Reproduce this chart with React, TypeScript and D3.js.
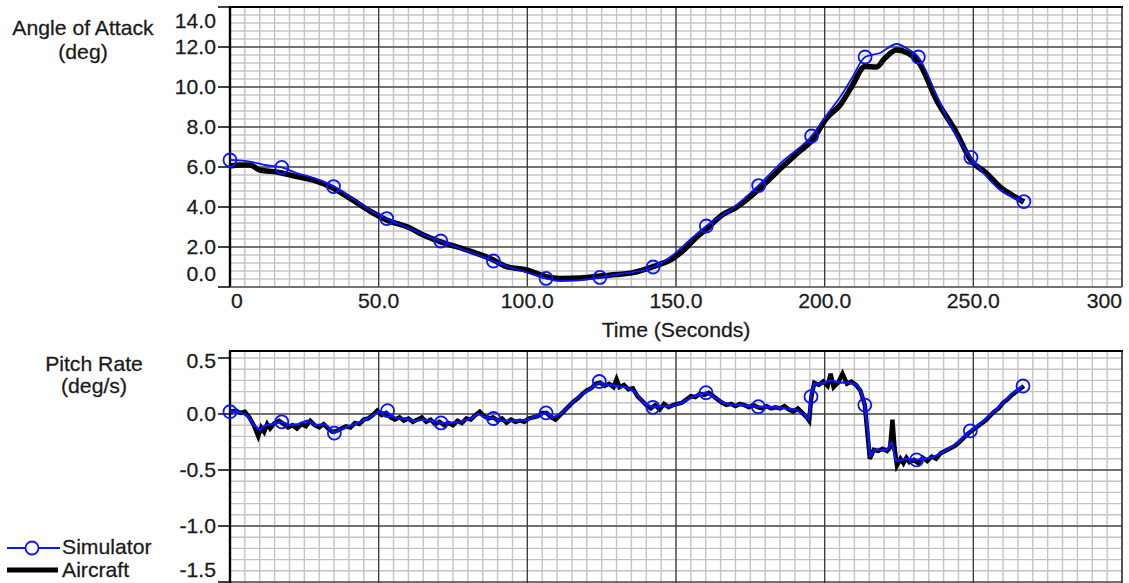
import React from "react";
import * as d3 from "d3";

// time axis
const timeTicks = [0, 50, 100, 150, 200, 250, 300];
const timeLabels = ["0", "50.0", "100.0", "150.0", "200.0", "250.0", "300"];
const aoaTicks = [0, 2, 4, 6, 8, 10, 12, 14];
const aoaLabels = ["0.0", "2.0", "4.0", "6.0", "8.0", "10.0", "12.0", "14.0"];
const pitchTicks = [0.5, 0, -0.5, -1, -1.5];
const pitchLabels = ["0.5", "0.0", "-0.5", "-1.0", "-1.5"];

// angle of attack, aircraft [t, deg]
const aircraftAoa: [number, number][] = [
  [0, 6.05], [3, 6.1], [6.7, 6.1], [10, 5.85], [15.7, 5.75], [22.4, 5.52], [28, 5.35],
  [33.6, 5.02], [40.4, 4.43], [47, 3.8], [52.7, 3.35], [60.5, 2.95], [65, 2.6],
  [70.6, 2.27], [79.6, 1.85], [88.6, 1.35], [93, 1.02], [99.8, 0.85], [106.3, 0.52],
  [111, 0.43], [118, 0.45], [124.6, 0.55], [130, 0.62], [135.5, 0.72], [142.3, 1.02],
  [149, 1.43], [153, 1.9], [157, 2.5], [160.3, 2.9], [165.5, 3.6], [170, 3.95],
  [178, 4.9], [185, 5.9], [191.7, 6.8], [195.6, 7.3], [200.7, 8.45], [205.2, 9.1],
  [209, 10.0], [213.6, 11.02], [217.5, 11.0], [220, 11.4], [224.2, 11.85], [228, 11.7],
  [231.5, 11.27], [237.6, 9.35], [244.4, 7.7], [249.1, 6.35], [254.5, 5.68], [259, 5.0],
  [263, 4.6], [267, 4.25],
];

// angle of attack, simulator
const simAoa: [number, number][] = [
  [0, 6.35], [3, 6.33], [6.7, 6.27], [11.8, 6.1], [17.4, 5.98], [22, 5.72], [28, 5.45],
  [35, 5.02], [41, 4.45], [47, 3.85], [52.7, 3.42], [60, 2.95], [65, 2.62], [70.9, 2.3],
  [77, 1.95], [83, 1.62], [88.6, 1.3], [94, 1.0], [100, 0.72], [106.3, 0.43], [111, 0.3],
  [116, 0.32], [124.4, 0.48], [131, 0.65], [137, 0.78], [142.3, 1.0], [149, 1.6],
  [155, 2.4], [160.2, 3.05], [168.3, 3.85], [177.7, 5.07], [186, 6.3], [195.6, 7.55],
  [200.7, 8.6], [205.2, 9.5], [209, 10.4], [213.6, 11.5], [218.6, 11.7], [224.2, 12.15],
  [228, 11.9], [231.5, 11.5], [237.6, 9.6], [243, 7.9], [249.1, 6.48], [254, 5.6],
  [259, 4.85], [263, 4.5], [267, 4.27],
];

const simAoaMarks: [number, number][] = [
  [0, 6.35], [17.4, 5.98], [34.8, 5.02], [52.7, 3.42], [70.9, 2.3], [88.6, 1.3],
  [106.3, 0.43], [124.4, 0.48], [142.3, 1.0], [160.2, 3.05], [177.8, 5.07], [195.6, 7.55],
  [213.6, 11.5], [231.5, 11.5], [249.2, 6.48], [267, 4.27],
];

// pitch rate, aircraft [t, deg/s]
const aircraftPitch: [number, number][] = [
  [0, 0.02], [2, 0.03], [3.5, 0.01], [5, 0.02], [6.5, -0.03], [8, -0.1], [9.5, -0.2],
  [10.5, -0.12], [11.5, -0.16], [12.5, -0.09], [13.5, -0.13], [15, -0.08], [16.5, -0.06],
  [18, -0.09], [19.5, -0.12], [21, -0.1], [22.5, -0.13], [24, -0.09], [25.5, -0.11],
  [27, -0.06], [28.5, -0.1], [30, -0.12], [31.5, -0.09], [33, -0.13], [34.5, -0.16],
  [36, -0.15], [37.5, -0.13], [39, -0.11], [40.5, -0.12], [42, -0.08], [43.5, -0.09],
  [45, -0.05], [46.5, -0.04], [48, -0.01], [49.5, 0.03], [51, -0.01], [52.5, 0.01],
  [54, -0.03], [55.5, -0.05], [57, -0.03], [58.5, -0.06], [60, -0.04], [61.5, -0.07],
  [63, -0.05], [64.5, -0.03], [66, -0.07], [67.5, -0.05], [69, -0.09], [70.5, -0.07],
  [72, -0.1], [73.5, -0.08], [75, -0.1], [76.5, -0.06], [78, -0.08], [79.5, -0.04],
  [81, -0.05], [82.5, -0.01], [84, 0.02], [85.5, -0.02], [87, -0.04], [88.5, -0.03],
  [90, -0.06], [91.5, -0.04], [93, -0.08], [94.5, -0.05], [96, -0.07], [97.5, -0.06],
  [99, -0.07], [100.5, -0.04], [102, -0.03], [103.5, -0.02], [105, 0.01], [106.5, 0.01],
  [108, -0.03], [109.5, -0.05], [111, -0.01], [112.5, 0.03], [114, 0.07], [115.5, 0.11],
  [117, 0.14], [118.5, 0.18], [120, 0.21], [121.5, 0.23], [123, 0.27], [124.5, 0.28],
  [126, 0.25], [127.5, 0.27], [129, 0.24], [130, 0.31], [131, 0.24], [132.5, 0.26],
  [134, 0.22], [135.5, 0.23], [137, 0.16], [138.5, 0.12], [140, 0.08], [141.5, 0.05],
  [143, 0.08], [144.5, 0.04], [146, 0.09], [147.5, 0.06], [149, 0.08], [150.5, 0.09],
  [152, 0.1], [153.5, 0.13], [155, 0.16], [156.5, 0.15], [158, 0.18], [159.5, 0.17],
  [161, 0.19], [162.5, 0.16], [164, 0.13], [165.5, 0.1], [167, 0.08], [168.5, 0.09],
  [170, 0.07], [171.5, 0.09], [173, 0.08], [174.5, 0.06], [176, 0.08], [177.5, 0.06],
  [179, 0.05], [180.5, 0.07], [182, 0.05], [183.5, 0.06], [185, 0.05], [186.5, 0.07],
  [188, 0.04], [189.5, 0.02], [191, 0.05], [192.5, 0.01], [194, -0.03], [194.8, -0.06],
  [195.5, 0.15], [196.5, 0.28], [198, 0.26], [199.5, 0.29], [201, 0.25], [202, 0.36],
  [203, 0.24], [204.5, 0.28], [206, 0.36], [207.5, 0.27], [209, 0.29], [210.5, 0.26],
  [212, 0.21], [213.5, 0.08], [214.3, -0.15], [215.2, -0.4], [216.5, -0.32], [218, -0.33],
  [219.5, -0.31], [221, -0.33], [222, -0.3], [222.8, -0.05], [223.5, -0.3], [224.3, -0.46],
  [225.5, -0.4], [226.5, -0.44], [227.5, -0.39], [228.5, -0.43], [230, -0.41],
  [231.5, -0.44], [233, -0.39], [234.5, -0.42], [236, -0.38], [237.5, -0.4], [239, -0.35],
  [240.5, -0.33], [242, -0.31], [243.5, -0.29], [245, -0.26], [246.5, -0.22], [248, -0.18],
  [249.5, -0.15], [251, -0.12], [252.5, -0.09], [254, -0.06], [255.5, -0.02], [257, 0.02],
  [258.5, 0.05], [260, 0.1], [261.5, 0.13], [263, 0.17], [264.5, 0.2], [266, 0.23],
  [267, 0.25],
];

// pitch rate, simulator
const simPitch: [number, number][] = [
  [0, 0.02], [3, 0.02], [6, -0.02], [8, -0.1], [10, -0.14], [12, -0.1], [14, -0.09],
  [17.4, -0.07], [20, -0.1], [23, -0.09], [26, -0.06], [29, -0.1], [32, -0.09],
  [35.1, -0.17], [38, -0.13], [41, -0.1], [44, -0.07], [47, -0.03], [50, 0.02], [53, 0.01],
  [56, -0.04], [59, -0.04], [62, -0.06], [65, -0.05], [68, -0.06], [71, -0.08], [74, -0.08],
  [77, -0.07], [80, -0.05], [83.5, 0.0], [86, -0.03], [88.6, -0.04], [91, -0.06],
  [94, -0.06], [97, -0.06], [100, -0.05], [103, -0.02], [106.3, 0.01], [109, -0.03],
  [112, 0.02], [115, 0.1], [118, 0.17], [121, 0.22], [124.2, 0.28], [127, 0.26],
  [130, 0.25], [133, 0.24], [136, 0.2], [139, 0.1], [142.2, 0.06], [145, 0.07], [148, 0.07],
  [151, 0.09], [154, 0.13], [157, 0.17], [160.1, 0.19], [163, 0.15], [166, 0.1], [169, 0.08],
  [172, 0.08], [175, 0.07], [177.7, 0.065], [181, 0.06], [184, 0.06], [187, 0.05],
  [190, 0.04], [193, 0.0], [194.6, -0.05], [195.4, 0.16], [196.5, 0.27], [199, 0.27],
  [202, 0.3], [205, 0.28], [208, 0.28], [211, 0.26], [212.5, 0.18], [213.5, 0.08],
  [214.5, -0.15], [215.3, -0.38], [217, -0.32], [221, -0.32], [222.5, -0.25], [224, -0.42],
  [227, -0.4], [230.9, -0.41], [234, -0.4], [237, -0.38], [240.5, -0.33], [244, -0.27],
  [249, -0.15], [253, -0.07], [256.5, 0.01], [260, 0.1], [263, 0.18], [266.7, 0.25],
];

const simPitchMarks: [number, number][] = [
  [0, 0.02], [17.4, -0.07], [35.1, -0.17], [53, 0.03], [71, -0.08], [88.6, -0.04],
  [106.3, 0.01], [124.2, 0.29], [142.2, 0.06], [160.1, 0.19], [177.7, 0.065],
  [195.4, 0.155], [213.5, 0.08], [230.9, -0.41], [249, -0.15], [266.7, 0.25],
];

const W = 1129;
const H = 583;
const FONT = "'Liberation Sans', Arial, sans-serif";
const BLUE = "#0a14ff";

const x = d3.scaleLinear().domain([0, 300]).range([230, 1122]);
const yA = d3.scaleLinear().domain([0, 14]).range([287, 7]);
const yP = d3.scaleLinear().domain([-1.5, 0.5625]).range([582, 351]);

function Label({ x, y, anchor = "start", children }: any) {
  return (
    <text
      transform={`translate(${x},${y}) scale(1.06,1)`}
      textAnchor={anchor}
      fontFamily={FONT}
      fontSize={20}
      fill="#1a1a1a"
      stroke="#1a1a1a"
      strokeWidth={0.25}
    >
      {children}
    </text>
  );
}

function Grid({ y, top, bottom, minor, major }: any) {
  const vMinor = d3.range(0, 300.01, 5);
  return (
    <g>
      {vMinor.map((t) => (
        <line key={"vm" + t} x1={x(t)} x2={x(t)} y1={top} y2={bottom} stroke="#c4c4c4" strokeWidth={1.4} />
      ))}
      {minor.map((v: number, i: number) => (
        <line key={"hm" + i} x1={230} x2={1122} y1={y(v)} y2={y(v)} stroke="#c4c4c4" strokeWidth={1.4} />
      ))}
      {major.map((v: number, i: number) => (
        <line key={"hM" + i} x1={230} x2={1122} y1={y(v)} y2={y(v)} stroke="#111" strokeWidth={1.2} />
      ))}
      {[50, 100, 150, 200, 250].map((t) => (
        <line key={"vM" + t} x1={x(t)} x2={x(t)} y1={top} y2={bottom} stroke="#333" strokeWidth={1.2} />
      ))}
      <line x1={1122} x2={1122} y1={top} y2={bottom} stroke="#333" strokeWidth={1.6} />
      <line x1={229} x2={1123} y1={top} y2={top} stroke="#000" strokeWidth={2.2} />
      <line x1={230} x2={230} y1={top} y2={bottom} stroke="#000" strokeWidth={2.4} />
    </g>
  );
}

export default function App() {
  const lineA = d3.line<[number, number]>().x((d) => x(d[0])).y((d) => yA(d[1])).curve(d3.curveMonotoneX);
  const lineP = d3.line<[number, number]>().x((d) => x(d[0])).y((d) => yP(d[1]));

  const aoaMinor = d3.range(0, 14.01, 0.4);
  const pitchMinor = d3.range(-1.5, 0.56, 0.1);

  return (
    <div style={{ position: "absolute", left: 0, top: 0 }}>
      <svg width={W} height={H} style={{ display: "block", background: "#fff" }}>
        {/* top panel */}
        <Grid y={yA} top={7} bottom={287} minor={aoaMinor} major={[2, 4, 6, 8, 10, 12]} />
        <line x1={230} x2={1122} y1={287} y2={287} stroke="#555" strokeWidth={1.6} />
        {aoaTicks.map((v, i) => (
          <g key={"at" + v}>
            <line x1={218} x2={230} y1={yA(v)} y2={yA(v)} stroke="#000" strokeWidth={1.5} />
            <Label x={216} y={Math.min(Math.max(yA(v), 21), 274) + 7} anchor="end">
              {aoaLabels[i]}
            </Label>
          </g>
        ))}
        {timeTicks.map((t, i) => (
          <Label
            key={"tt" + t}
            x={i === 0 ? 231 : i === timeTicks.length - 1 ? 1122 : x(t)}
            y={308}
            anchor={i === 0 ? "start" : i === timeTicks.length - 1 ? "end" : "middle"}
          >
            {timeLabels[i]}
          </Label>
        ))}
        <Label x={676} y={337} anchor="middle">Time (Seconds)</Label>
        <Label x={83} y={35} anchor="middle">Angle of Attack</Label>
        <Label x={83} y={59} anchor="middle">(deg)</Label>

        <path d={lineA(aircraftAoa) || ""} fill="none" stroke="#000" strokeWidth={5.5} strokeLinejoin="round" />
        <path d={lineA(simAoa) || ""} fill="none" stroke={BLUE} strokeWidth={1.8} />
        {simAoaMarks.map((d, i) => (
          <circle key={"ma" + i} cx={x(d[0])} cy={yA(d[1])} r={6.5} fill="none" stroke={BLUE} strokeWidth={1.8} />
        ))}

        {/* bottom panel */}
        <Grid y={yP} top={351} bottom={H} minor={pitchMinor} major={[0, -0.5, -1, -1.5]} />
        {pitchTicks.map((v, i) => (
          <g key={"pt" + i}>
            <line x1={218} x2={230} y1={yP(v)} y2={yP(v)} stroke="#000" strokeWidth={1.5} />
            <Label x={216} y={Math.min(Math.max(yP(v), 361), 570) + 7} anchor="end">
              {pitchLabels[i]}
            </Label>
          </g>
        ))}
        <Label x={94} y={371} anchor="middle">Pitch Rate</Label>
        <Label x={94} y={393} anchor="middle">(deg/s)</Label>

        <path d={lineP(aircraftPitch) || ""} fill="none" stroke="#000" strokeWidth={4.4} strokeLinejoin="miter" />
        <path d={lineP(simPitch) || ""} fill="none" stroke={BLUE} strokeWidth={2.4} strokeLinejoin="round" />
        {simPitchMarks.map((d, i) => (
          <circle key={"mp" + i} cx={x(d[0])} cy={yP(d[1])} r={6.5} fill="none" stroke={BLUE} strokeWidth={1.8} />
        ))}

        {/* legend */}
        <line x1={7} x2={60} y1={548} y2={548} stroke={BLUE} strokeWidth={1.8} />
        <circle cx={32} cy={548} r={6.5} fill="#fff" stroke={BLUE} strokeWidth={1.8} />
        <Label x={62} y={554}>Simulator</Label>
        <line x1={7} x2={58} y1={570} y2={570} stroke="#000" strokeWidth={5} />
        <Label x={62} y={577}>Aircraft</Label>
      </svg>
    </div>
  );
}
